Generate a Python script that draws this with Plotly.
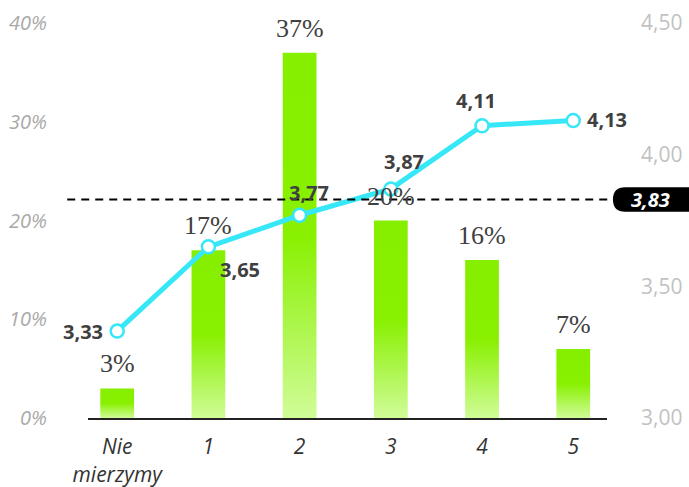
import plotly.graph_objects as go

# Share of answers per category (left axis, %)
categories = ["Nie<br>mierzymy", "1", "2", "3", "4", "5"]
share_pct = [3, 17, 37, 20, 16, 7]

# Average rating per category (right axis)
avg_rating = [3.33, 3.65, 3.77, 3.87, 4.11, 4.13]
overall_avg = 3.83

left_ticks = [0, 10, 20, 30, 40]
left_ticktext = ["0%", "10%", "20%", "30%", "40%"]
right_ticks = [3.0, 3.5, 4.0, 4.5]
right_ticktext = ["3,00", "3,50", "4,00", "4,50"]


def pl(v):
    return f"{v:.2f}".replace(".", ",")


BAR_HALF = 0.185
LINE_COLOR = "#36e7f7"
LABEL_GREY = "#404040"

fig = go.Figure()

# Bars drawn as filled polygons so each one gets its own vertical gradient
for i, v in enumerate(share_pct):
    fig.add_trace(go.Scatter(
        x=[i - BAR_HALF, i + BAR_HALF, i + BAR_HALF, i - BAR_HALF, i - BAR_HALF],
        y=[0, 0, v, v, 0],
        mode="lines",
        line=dict(width=0, color="rgba(0,0,0,0)"),
        fill="toself",
        fillgradient=dict(
            type="vertical",
            colorscale=[[0, "#d0fc98"], [0.5, "#88f000"], [1, "#86ef00"]],
        ),
        hoverinfo="skip",
        showlegend=False,
        xaxis="x", yaxis="y",
    ))

# Average rating line
fig.add_trace(go.Scatter(
    x=list(range(len(avg_rating))),
    y=avg_rating,
    mode="lines+markers",
    line=dict(color=LINE_COLOR, width=5),
    marker=dict(size=13, color="white", line=dict(color=LINE_COLOR, width=2.5)),
    showlegend=False,
    xaxis="x", yaxis="y2",
))

annotations = []

# Percent labels above the bars
for i, v in enumerate(share_pct):
    annotations.append(dict(
        x=i, y=v, xref="x", yref="y",
        text=f"{v}%", showarrow=False,
        yanchor="bottom", yshift=8,
        font=dict(family="Liberation Serif", size=26, color="#404040"),
    ))

# Rating labels next to the line points
label_offsets = [(-34, 0), (32, -23), (9, 23), (13, 27), (-6, 25), (34, 1)]
for i, (v, (dx, dy)) in enumerate(zip(avg_rating, label_offsets)):
    annotations.append(dict(
        x=i, y=v, xref="x", yref="y2",
        text=f"<b>{pl(v)}</b>", showarrow=False,
        xshift=dx, yshift=dy,
        font=dict(family="Open Sans", size=20, color=LABEL_GREY),
    ))

# Overall average badge text
annotations.append(dict(
    x=1.083, y=overall_avg, xref="paper", yref="y2",
    xanchor="center", yanchor="middle",
    text=f"<b><i>{pl(overall_avg)}</i></b>", showarrow=False,
    font=dict(family="Open Sans", size=20, color="white"),
))

shapes = [
    # Overall average reference line
    dict(
        type="line", xref="paper", yref="y2",
        x0=-0.04, x1=1.01, y0=overall_avg, y1=overall_avg,
        line=dict(color="black", width=2, dash="8px,6px"),
        layer="above",
    ),
    # Rounded badge behind the average value
    dict(
        type="path", xref="paper", yref="y2",
        xsizemode="pixel", ysizemode="pixel",
        xanchor=1.01, yanchor=overall_avg,
        path="M 13,13 L 100,13 L 100,-13 L 13,-13 Q 0,-13 0,0 Q 0,13 13,13 Z",
        fillcolor="black", line=dict(color="white", width=1.5),
        layer="above",
    ),
]

fig.update_layout(
    width=689, height=487,
    margin=dict(l=88, r=82, t=23, b=69),
    paper_bgcolor="white", plot_bgcolor="white",
    showlegend=False,
    xaxis=dict(
        range=[-0.32, 5.37],
        tickvals=list(range(len(categories))),
        ticktext=[f"<i>{t}</i>" for t in categories],
        showgrid=False, zeroline=False,
        showline=True, linecolor="#222222", linewidth=2,
        ticks="", ticklabelstandoff=9,
        tickfont=dict(family="Open Sans", size=21, color="#333333"),
        automargin=False,
    ),
    yaxis=dict(
        range=[0, 40],
        tickvals=left_ticks, ticktext=[f"<i>{t}</i>" for t in left_ticktext],
        showgrid=False, zeroline=False, showline=False,
        ticks="", ticklabelstandoff=40,
        tickfont=dict(family="Open Sans", size=20, color="#a9a9a9"),
        automargin=False,
    ),
    yaxis2=dict(
        range=[3.0, 4.5],
        overlaying="y", side="right",
        tickvals=right_ticks, ticktext=right_ticktext,
        showgrid=False, zeroline=False, showline=False,
        ticks="", ticklabelstandoff=33,
        tickfont=dict(family="Open Sans", size=21, color="#c2c2c2"),
        automargin=False,
    ),
    annotations=annotations,
    shapes=shapes,
)

fig.write_html("out.html")
